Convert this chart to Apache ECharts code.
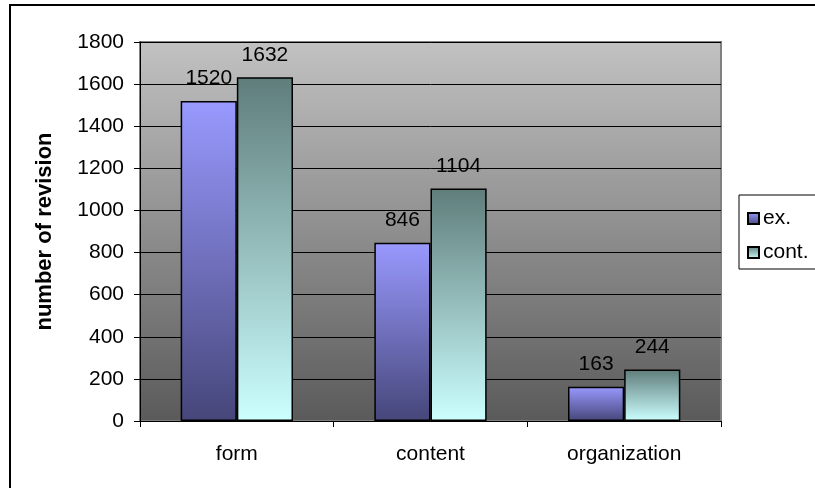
<!DOCTYPE html>
<html>
<head>
<meta charset="utf-8">
<script src="https://cdn.jsdelivr.net/npm/echarts@6/dist/echarts.min.js"></script>
<style>
  html, body { margin: 0; padding: 0; background: #fff; }
  #chart { width: 815px; height: 488px; }
</style>
</head>
<body>
<div id="chart"></div>
<script>
// Revision counts per category
const categories = ['form', 'content', 'organization'];
const exValues = [1520, 846, 163];
const contValues = [1632, 1104, 244];
const seriesNames = ['ex.', 'cont.'];
const yTicks = { min: 0, max: 1800, step: 200 };

const FONT = 'Liberation Sans';

function vGrad(top, bottom) {
  return new echarts.graphic.LinearGradient(0, 0, 0, 1, [
    { offset: 0, color: top },
    { offset: 1, color: bottom }
  ]);
}

const chart = echarts.init(document.getElementById('chart'), null, { renderer: 'canvas' });

const labelStyle = {
  show: true,
  position: 'top',
  distance: 12,
  color: '#000',
  fontFamily: FONT,
  fontSize: 21
};

chart.setOption({
  animation: false,
  backgroundColor: '#fff',
  textStyle: { fontFamily: FONT },
  graphic: [{
    type: 'rect',
    shape: { x: 10, y: 5, width: 900, height: 600 },
    style: { fill: 'none', stroke: '#000', lineWidth: 2 },
    silent: true,
    z: 100
  }],
  grid: {
    left: 140, right: 94, top: 42, bottom: 67,
    show: true,
    backgroundColor: vGrad('#c2c2c2', '#5a5a5a'),
    borderColor: '#808080',
    borderWidth: 2
  },
  legend: {
    orient: 'vertical',
    left: 739,
    top: 195,
    padding: [13, 40, 6, 8],
    itemGap: 13,
    itemWidth: 11,
    itemHeight: 11,
    icon: 'rect',
    backgroundColor: '#fff',
    borderColor: '#000',
    borderWidth: 1,
    textStyle: { fontFamily: FONT, fontSize: 21, color: '#000', padding: [0, 0, 0, -1] },
    data: seriesNames
  },
  xAxis: {
    type: 'category',
    data: categories,
    axisLine: { show: true, lineStyle: { color: '#000', width: 1 } },
    axisTick: { show: true, length: 6, lineStyle: { color: '#000' } },
    axisLabel: { color: '#000', fontFamily: FONT, fontSize: 21, margin: 23 },
    splitLine: { show: false }
  },
  yAxis: {
    type: 'value',
    min: yTicks.min,
    max: yTicks.max,
    interval: yTicks.step,
    name: 'number of revision',
    nameLocation: 'middle',
    nameRotate: 90,
    nameGap: 84,
    nameTextStyle: { fontFamily: FONT, fontSize: 22, fontWeight: 'bold', color: '#000' },
    axisLine: { show: true, lineStyle: { color: '#000', width: 1 } },
    axisTick: { show: true, length: 6, lineStyle: { color: '#000' } },
    axisLabel: {
      color: '#000', fontFamily: FONT, fontSize: 21, margin: 16,
      formatter: (v) => String(v)
    },
    splitLine: { show: true, lineStyle: { color: '#000', width: 1 } }
  },
  series: [
    {
      name: seriesNames[0],
      type: 'bar',
      data: exValues,
      barGap: '0%',
      barCategoryGap: '42%',
      itemStyle: {
        color: vGrad('#9999ff', '#46467a'),
        borderColor: '#000',
        borderWidth: 1.5
      },
      label: labelStyle
    },
    {
      name: seriesNames[1],
      type: 'bar',
      data: contValues,
      barGap: '0%',
      barCategoryGap: '42%',
      itemStyle: {
        color: vGrad('#5f7d7b', '#ccffff'),
        borderColor: '#000',
        borderWidth: 1.5
      },
      label: labelStyle
    }
  ]
});
</script>
</body>
</html>
